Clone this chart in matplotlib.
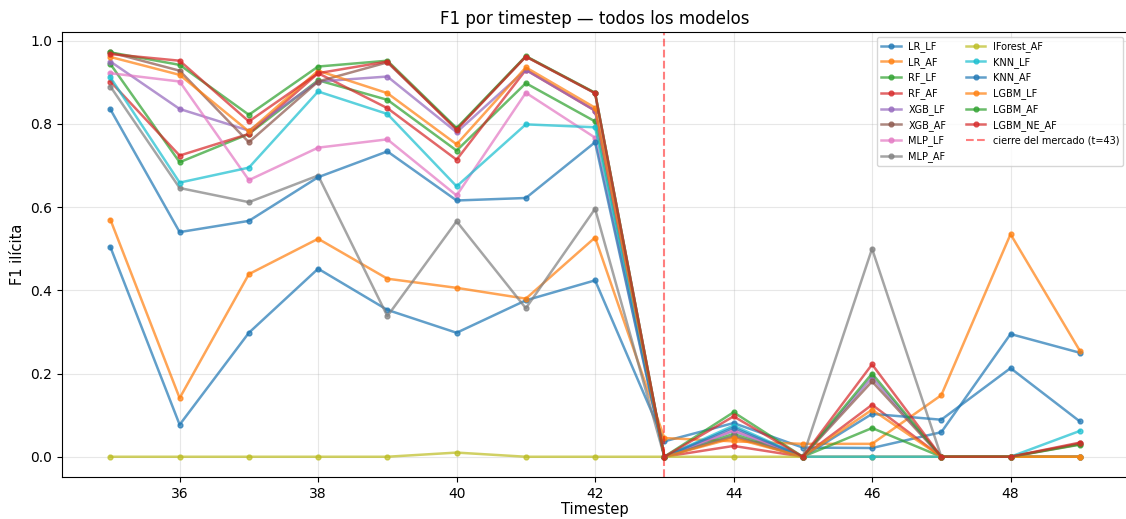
import numpy as np
import matplotlib
matplotlib.use("Agg")
from matplotlib import pyplot as plt

# Timesteps
timesteps = list(range(35, 50))

# F1 ilícita por modelo
lr_lf = [0.504, 0.077, 0.298, 0.452, 0.353, 0.298, 0.376, 0.424, 0.037, 0.081, 0.022, 0.021, 0.059, 0.295, 0.250]
lr_af = [0.570, 0.141, 0.439, 0.524, 0.428, 0.406, 0.380, 0.527, 0.045, 0.037, 0.031, 0.031, 0.148, 0.535, 0.255]
rf_lf = [0.944, 0.708, 0.776, 0.905, 0.858, 0.736, 0.898, 0.806, 0.0, 0.055, 0.0, 0.069, 0.0, 0.0, 0.0]
rf_af = [0.902, 0.724, 0.776, 0.922, 0.838, 0.714, 0.930, 0.832, 0.0, 0.026, 0.0, 0.125, 0.0, 0.0, 0.030]
xgb_lf = [0.950, 0.836, 0.784, 0.902, 0.914, 0.780, 0.930, 0.832, 0.0, 0.062, 0.0, 0.191, 0.0, 0.0, 0.0]
xgb_af = [0.972, 0.928, 0.756, 0.902, 0.948, 0.788, 0.962, 0.874, 0.0, 0.049, 0.0, 0.181, 0.0, 0.0, 0.032]
mlp_lf = [0.922, 0.902, 0.665, 0.743, 0.763, 0.628, 0.875, 0.767, 0.0, 0.065, 0.0, 0.0, 0.0, 0.0, 0.0]
mlp_af = [0.890, 0.646, 0.612, 0.676, 0.338, 0.566, 0.357, 0.596, 0.0, 0.049, 0.0, 0.500, 0.0, 0.0, 0.0]
iforest_af = [0.0, 0.0, 0.0, 0.0, 0.0, 0.010, 0.0, 0.0, 0.0, 0.0, 0.0, 0.0, 0.0, 0.0, 0.0]
knn_lf = [0.912, 0.659, 0.695, 0.878, 0.824, 0.650, 0.799, 0.792, 0.0, 0.075, 0.0, 0.0, 0.0, 0.0, 0.062]
knn_af = [0.835, 0.540, 0.567, 0.672, 0.734, 0.616, 0.622, 0.756, 0.0, 0.070, 0.0, 0.103, 0.089, 0.213, 0.085]
lgbm_lf = [0.961, 0.918, 0.782, 0.928, 0.874, 0.751, 0.936, 0.839, 0.0, 0.045, 0.0, 0.113, 0.0, 0.0, 0.0]
lgbm_af = [0.972, 0.942, 0.822, 0.938, 0.952, 0.790, 0.963, 0.875, 0.0, 0.107, 0.0, 0.200, 0.0, 0.0, 0.029]
lgbm_ne_af = [0.968, 0.952, 0.806, 0.922, 0.950, 0.786, 0.962, 0.874, 0.0, 0.097, 0.0, 0.222, 0.0, 0.0, 0.034]

modelos = ['LR_LF', 'LR_AF', 'RF_LF', 'RF_AF', 'XGB_LF', 'XGB_AF', 'MLP_LF', 'MLP_AF',
           'IForest_AF', 'KNN_LF', 'KNN_AF', 'LGBM_LF', 'LGBM_AF', 'LGBM_NE_AF']
valores = [lr_lf, lr_af, rf_lf, rf_af, xgb_lf, xgb_af, mlp_lf, mlp_af,
           iforest_af, knn_lf, knn_af, lgbm_lf, lgbm_af, lgbm_ne_af]
cierre = 43

fig = plt.figure(figsize=(11.26, 5.19), dpi=100)
ax = fig.add_axes([0.055, 0.081, 0.947, 0.857])

for nombre, f1 in zip(modelos, valores):
    ax.plot(timesteps, f1, marker='o', markersize=3.5, linewidth=1.8, alpha=0.7, label=nombre)

ax.axvline(cierre, color='red', linestyle='--', linewidth=1.5, alpha=0.5,
           label='cierre del mercado (t=43)')

ax.set_title('F1 por timestep — todos los modelos', fontsize=12)
ax.set_xlabel('Timestep', fontsize=10.5, labelpad=1)
ax.set_ylabel('F1 ilícita', fontsize=10.5)
ax.grid(True, alpha=0.3)
ax.legend(ncol=2, fontsize=7, loc='upper right')

fig.savefig('out.png', dpi=100)
